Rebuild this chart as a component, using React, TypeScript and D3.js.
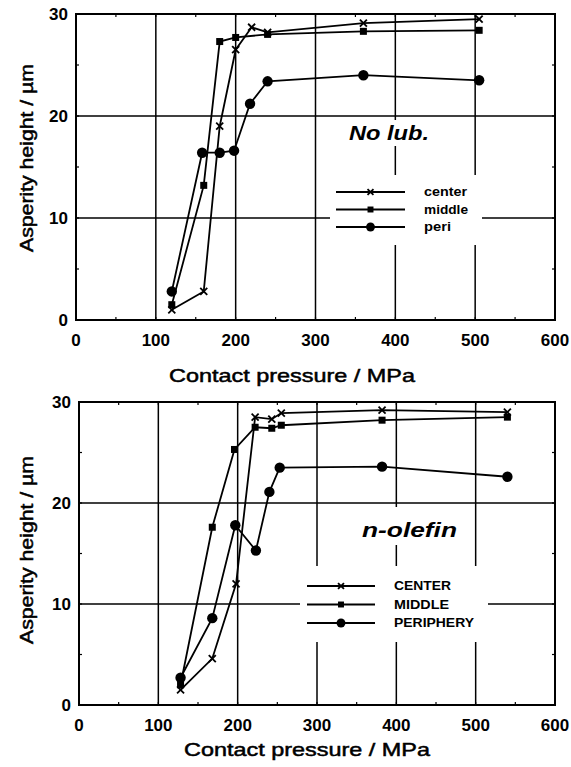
import React from 'react';
import * as d3 from 'd3';

// x ticks / y ticks shared by both panels
const xTicks = [0, 100, 200, 300, 400, 500, 600];
const yTicks = [0, 10, 20, 30];

// No lub. panel
const noLubCenterX = [120, 160, 180, 200, 220, 240, 360, 505];
const noLubCenterY = [1.0, 2.8, 19.0, 26.5, 28.7, 28.2, 29.1, 29.5];
const noLubMiddleX = [120, 160, 180, 200, 240, 360, 505];
const noLubMiddleY = [1.5, 13.2, 27.3, 27.7, 28.0, 28.3, 28.4];
const noLubPeriX = [120, 158, 180, 198, 218, 240, 360, 505];
const noLubPeriY = [2.8, 16.4, 16.4, 16.6, 21.2, 23.4, 24.0, 23.5];

// n-olefin panel
const olefinCenterX = [128, 168, 198, 222, 243, 255, 382, 540];
const olefinCenterY = [1.5, 4.6, 12.0, 28.5, 28.3, 28.9, 29.2, 29.0];
const olefinMiddleX = [128, 168, 196, 222, 243, 255, 382, 540];
const olefinMiddleY = [2.0, 17.6, 25.3, 27.5, 27.4, 27.7, 28.2, 28.5];
const olefinPeriX = [128, 168, 197, 223, 240, 253, 382, 540];
const olefinPeriY = [2.7, 8.6, 17.8, 15.3, 21.1, 23.5, 23.6, 22.6];

const noLubLegend = ['center', 'middle', 'peri'];
const olefinLegend = ['CENTER', 'MIDDLE', 'PERIPHERY'];

type Marker = 'x' | 'square' | 'circle';
const markers: Marker[] = ['x', 'square', 'circle'];

const FONT = '"Liberation Sans", Arial, sans-serif';

const zip = (xs: number[], ys: number[]) => xs.map((x, i) => [x, ys[i]] as [number, number]);

const MarkerShape: React.FC<{ type: Marker; x: number; y: number; s?: number }> = ({ type, x, y, s = 1 }) => {
  if (type === 'circle') return <circle cx={x} cy={y} r={5.2 * s} fill="#000" />;
  if (type === 'square') return <rect x={x - 3.5 * s} y={y - 3.5 * s} width={7 * s} height={7 * s} fill="#000" />;
  const d = 3.5 * s;
  return (
    <g stroke="#000" strokeWidth={1.8}>
      <line x1={x - d} y1={y - d} x2={x + d} y2={y + d} />
      <line x1={x - d} y1={y + d} x2={x + d} y2={y - d} />
    </g>
  );
};

interface PanelProps {
  left: number;
  right: number;
  top: number;
  bottom: number;
  series: [number, number][][];
  legend: string[];
  legendWidths: number[];
  label: string;
  labelPos: [number, number];
  labelWidth: number;
  legendPos: { x1: number; x2: number; y0: number; dy: number; tx: number };
  masks: { x: number; y: number; w: number; h: number }[];
  titleX: number;
  titleY: number;
  yTitleY: number;
}

const Panel: React.FC<PanelProps> = ({ left, right, top, bottom, series, legend, legendWidths, label, labelPos, labelWidth, legendPos, masks, titleX, titleY, yTitleY }) => {
  const x = d3.scaleLinear().domain([0, 600]).range([left, right]);
  const y = d3.scaleLinear().domain([0, 30]).range([bottom, top]);
  const line = d3.line<[number, number]>().x(d => x(d[0])).y(d => y(d[1]));
  const minorX = d3.range(50, 600, 50);
  const minorY = d3.range(5, 30, 5);

  return (
    <g>
      {/* grid */}
      {xTicks.slice(1, -1).map(t => (
        <line key={'gx' + t} x1={x(t)} x2={x(t)} y1={top} y2={bottom} stroke="#000" strokeWidth={1.5} />
      ))}
      {yTicks.slice(1, -1).map(t => (
        <line key={'gy' + t} x1={left} x2={right} y1={y(t)} y2={y(t)} stroke="#000" strokeWidth={1.5} />
      ))}
      {masks.map((m, i) => <rect key={i} x={m.x} y={m.y} width={m.w} height={m.h} fill="#fff" />)}

      {/* minor ticks */}
      {minorX.map(t => (
        <g key={'mx' + t} stroke="#000" strokeWidth={1.2}>
          <line x1={x(t)} x2={x(t)} y1={bottom} y2={bottom - 3} />
          <line x1={x(t)} x2={x(t)} y1={top} y2={top + 3} />
        </g>
      ))}
      {minorY.map(t => (
        <g key={'my' + t} stroke="#000" strokeWidth={1.2}>
          <line x1={left} x2={left + 3} y1={y(t)} y2={y(t)} />
          <line x1={right} x2={right - 3} y1={y(t)} y2={y(t)} />
        </g>
      ))}

      <rect x={left} y={top} width={right - left} height={bottom - top} fill="none" stroke="#000" strokeWidth={2} />

      {/* data */}
      {series.map((s, i) => (
        <g key={'s' + i}>
          <path d={line(s) || ''} fill="none" stroke="#000" strokeWidth={1.8} />
          {s.map((p, j) => <MarkerShape key={j} type={markers[i]} x={x(p[0])} y={y(p[1])} />)}
        </g>
      ))}

      {/* tick labels */}
      {yTicks.map(t => (
        <text key={'ty' + t} x={left - 8} y={y(t) + 6} textAnchor="end" fontSize={17} fontFamily={FONT}
          fontWeight="bold">{t}</text>
      ))}
      {xTicks.map(t => (
        <text key={'tx' + t} x={x(t)} y={bottom + 26} textAnchor="middle" fontSize={17} fontFamily={FONT}
          fontWeight="bold">{t}</text>
      ))}
      <text x={titleX} y={titleY} textAnchor="middle" fontSize={19} fontFamily={FONT}
        stroke="#000" strokeWidth={0.5} textLength={246} lengthAdjust="spacingAndGlyphs">Contact pressure  / MPa</text>
      <text transform={`translate(33,${yTitleY}) rotate(-90)`} textAnchor="middle" fontSize={18} fontFamily={FONT}
        stroke="#000" strokeWidth={0.5} textLength={188} lengthAdjust="spacingAndGlyphs">Asperity height / µm</text>

      {/* label + legend */}
      <text x={labelPos[0]} y={labelPos[1]} fontSize={20} fontWeight="bold" fontStyle="italic" fontFamily={FONT}
        textLength={labelWidth} lengthAdjust="spacingAndGlyphs">{label}</text>
      {legend.map((name, i) => {
        const ly = legendPos.y0 + i * legendPos.dy;
        const mx = (legendPos.x1 + legendPos.x2) / 2;
        return (
          <g key={name}>
            <line x1={legendPos.x1} x2={legendPos.x2} y1={ly} y2={ly} stroke="#000" strokeWidth={1.8} />
            <MarkerShape type={markers[i]} x={mx} y={ly} s={0.85} />
            <text x={legendPos.tx} y={ly + 4} fontSize={12} fontWeight="bold" fontFamily={FONT}
              textLength={legendWidths[i]} lengthAdjust="spacingAndGlyphs">{name}</text>
          </g>
        );
      })}
    </g>
  );
};

export default function App() {
  return (
    <svg width={571} height={767} style={{ position: 'absolute', left: 0, top: 0, background: '#fff' }}>
      <Panel
        left={76} right={555} top={14} bottom={320}
        series={[zip(noLubCenterX, noLubCenterY), zip(noLubMiddleX, noLubMiddleY), zip(noLubPeriX, noLubPeriY)]}
        legend={noLubLegend}
        legendWidths={[43, 44, 27]}
        label="No lub."
        labelPos={[349, 140]}
        labelWidth={80}
        legendPos={{ x1: 336, x2: 405, y0: 192, dy: 17.5, tx: 424 }}
        masks={[{ x: 344, y: 120, w: 92, h: 26 }, { x: 330, y: 175, w: 152, h: 70 }]}
        titleX={292} titleY={382} yTitleY={158}
      />
      <Panel
        left={79} right={555} top={402} bottom={705}
        series={[zip(olefinCenterX, olefinCenterY), zip(olefinMiddleX, olefinMiddleY), zip(olefinPeriX, olefinPeriY)]}
        legend={olefinLegend}
        legendWidths={[57, 55, 80]}
        label="n-olefin"
        labelPos={[362, 537]}
        labelWidth={95}
        legendPos={{ x1: 307, x2: 375, y0: 586, dy: 18.5, tx: 394 }}
        masks={[{ x: 358, y: 507, w: 104, h: 38 }, { x: 300, y: 566, w: 188, h: 76 }]}
        titleX={307} titleY={756} yTitleY={550}
      />
    </svg>
  );
}
